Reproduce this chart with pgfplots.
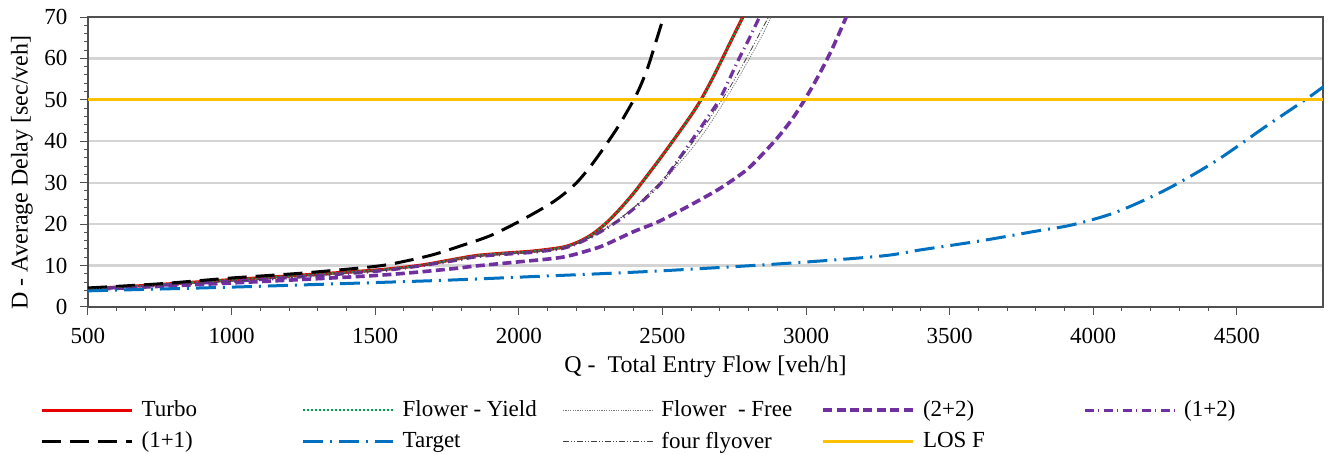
\documentclass[border=0pt]{standalone}
\usepackage{fontspec}
\setmainfont{Liberation Serif}
\usepackage{pgfplots}
\pgfplotsset{compat=1.18}
\definecolor{turbo}{RGB}{230,0,0}
\definecolor{fyield}{RGB}{0,160,80}
\definecolor{ffree}{RGB}{120,120,120}
\definecolor{purp}{RGB}{112,48,160}
\definecolor{tblue}{RGB}{0,112,192}
\definecolor{losf}{RGB}{255,192,0}
\definecolor{gridgray}{RGB}{212,212,212}
\definecolor{axgray}{RGB}{80,80,80}
\begin{document}
\fontsize{11.5}{13.5}\selectfont
\begin{tikzpicture}
\begin{axis}[name=ax, scale only axis, width=617.5pt, height=145pt,
  xmin=500, xmax=4800, ymin=0, ymax=70,
  xtick={500,1000,...,4500}, ytick={0,10,...,70},
  minor x tick num=4, minor y tick num=4,
  xtick pos=left, ytick pos=left, tick align=outside,
  major tick length=3.8pt, minor tick length=2pt,
  tick style={axgray, line width=0.5pt},
  axis line style={draw=axgray, line width=0.6pt},
  ymajorgrids, major grid style={draw=gridgray, line width=1.2pt},
  /pgf/number format/assume math mode=true,
  /pgf/number format/1000 sep={},
  ticklabel style={font=\fontsize{11.5}{13.5}\selectfont},
  xticklabel style={yshift=-3pt},
  yticklabel style={xshift=-2.5pt},
  label style={font=\fontsize{12}{14}\selectfont},
  xlabel={Q -~ Total Entry Flow [veh/h]},
  ylabel={D - Average Delay [sec/veh]},
  xlabel style={at={(axis description cs:0.5,0)}, anchor=center, yshift=-30pt},
  ylabel style={at={(axis description cs:-0.0535,0.464)}, anchor=center},
  legend columns=5,
  legend cell align=left,
  legend style={at={(axis description cs:0,0)}, anchor=north west, xshift=-24pt, yshift=-44.5pt,
    draw=none, fill=none, inner sep=0pt, row sep=2pt,
    font=\fontsize{11.5}{13.5}\selectfont,
    /tikz/every odd column/.append style={column sep=2pt},
    /tikz/every even column/.append style={column sep=0pt}},
  legend image code/.code={\draw[#1] (0pt,0pt) -- (45pt,0pt);},
]
% Turbo
\addplot[turbo, line width=1.6pt, smooth] coordinates {
(500,4.4) (700,5.2) (1000,6.6) (1200,7.5) (1500,8.9) (1650,10.0) (1750,11.2) (1850,12.4)
(1950,13.0) (2050,13.5) (2150,14.4) (2200,15.5) (2250,17.3) (2300,20.0) (2350,23.5)
(2400,27.5) (2450,32.0) (2500,36.6) (2550,41.4) (2600,46.3) (2634,50) (2670,54.6)
(2704,59.3) (2740,64.4) (2780,70)};
\addlegendentry{\makebox[78pt][l]{Turbo}}
% Flower - Yield
\addplot[fyield, line width=1pt, dash pattern=on 1pt off 1pt, smooth] coordinates {
(500,4.4) (700,5.2) (1000,6.6) (1200,7.5) (1500,8.9) (1650,10.0) (1750,11.2) (1850,12.4)
(1950,13.0) (2050,13.5) (2150,14.4) (2200,15.5) (2250,17.3) (2300,20.0) (2350,23.5)
(2400,27.5) (2450,32.0) (2500,36.6) (2550,41.4) (2600,46.3) (2634,50) (2670,54.6)
(2704,59.3) (2740,64.4) (2780,70)};
\addlegendentry{\makebox[78pt][l]{Flower - Yield}}
% Flower - Free
\addplot[ffree, line width=0.4pt, dash pattern=on 0.6pt off 0.6pt, smooth] coordinates {
(500,4.3) (1000,6.2) (1500,8.6) (1750,10.9) (1850,12.1) (1950,12.7) (2050,13.2)
(2150,14.1) (2200,15.2) (2250,16.8) (2300,18.8) (2350,21.3) (2400,23.9) (2450,26.8) (2500,30.1)
(2550,34.0) (2600,38.0) (2650,42.6) (2700,47.9) (2750,53.6) (2800,59.6) (2850,65.9) (2878,70)};
\addlegendentry{\makebox[78pt][l]{Flower~ - Free}}
% (2+2)
\addplot[purp, line width=1.8pt, dash pattern=on 4.5pt off 2.2pt, smooth] coordinates {
(500,4.2) (1000,5.8) (1500,7.6) (1750,9.1) (1850,9.9) (2000,10.9) (2150,12.0) (2250,13.8)
(2300,15.0) (2400,18.2) (2483,20.5) (2576,23.8) (2650,26.6) (2700,28.6) (2750,30.9)
(2800,33.5) (2850,37.0) (2900,40.8) (2950,45.2) (2995,50) (3040,55.4) (3082,61)
(3115,66) (3140,70)};
\addlegendentry{\makebox[78pt][l]{(2+2)}}
% (1+2)
\addplot[purp, line width=1.6pt, dash pattern=on 4.5pt off 2.2pt on 0.6pt off 2.2pt, smooth] coordinates {
(500,4.3) (1000,6.2) (1500,8.6) (1750,10.9) (1850,12.1) (1950,12.7) (2050,13.2)
(2150,14.1) (2200,15.2) (2250,16.8) (2300,18.8) (2350,21.0) (2400,23.7) (2450,26.8) (2500,30.3)
(2550,35.0) (2600,40.0) (2650,45.0) (2698,50) (2730,54.5) (2760,59) (2800,64.5) (2838,70)};
\addlegendentry{\makebox[78pt][l]{(1+2)}}
% (1+1)
\addplot[black, line width=1.5pt, dash pattern=on 9.5pt off 4.5pt, smooth] coordinates {
(500,4.6) (750,5.6) (1000,7.0) (1250,8.2) (1500,9.8) (1600,11.0) (1700,12.6) (1800,14.8)
(1900,17.2) (2000,20.6) (2100,24.5) (2150,26.9) (2200,29.9) (2250,34.0) (2300,38.8)
(2350,44.0) (2400,50.0) (2425,53.6) (2450,58.0) (2475,63.5) (2504,70)};
\addlegendentry{\makebox[78pt][l]{(1+1)}}
% Target
\addplot[tblue, line width=1.5pt, dash pattern=on 10pt off 3.5pt on 1pt off 3.5pt, smooth] coordinates {
(500,3.9) (1000,4.8) (1500,5.9) (1760,6.5) (2000,7.2) (2460,8.6) (2925,10.5) (3262,12.3)
(3400,13.8) (3611,16.0) (3800,18.3) (3925,19.8) (4076,22.8) (4250,28.2) (4424,35.1)
(4599,43.5) (4738,50) (4802,53.2)};
\addlegendentry{\makebox[78pt][l]{Target}}
% four flyover
\addplot[black!75, line width=0.4pt, dash pattern=on 3pt off 1pt on 0.5pt off 1pt on 0.5pt off 1pt, smooth] coordinates {
(500,4.3) (1000,6.2) (1500,8.6) (1750,10.9) (1850,12.1) (1950,12.7) (2050,13.2)
(2150,14.1) (2200,15.2) (2250,16.8) (2300,18.8) (2350,21.2) (2400,24.0) (2450,27.2) (2500,30.6)
(2550,34.8) (2600,39.2) (2650,44.0) (2700,49.2) (2750,54.8) (2800,61.0) (2850,67.5) (2870,70)};
\addlegendentry{\makebox[78pt][l]{four flyover}}
% LOS F
\addplot[losf, line width=1.5pt] coordinates {(500,50) (4800,50)};
\addlegendentry{\makebox[78pt][l]{LOS F}}
\end{axis}
\pgfresetboundingbox
\path[use as bounding box] ([xshift=-44pt,yshift=-73.5pt]ax.south west) rectangle ([xshift=3.5pt,yshift=8.5pt]ax.north east);
\end{tikzpicture}
\end{document}
